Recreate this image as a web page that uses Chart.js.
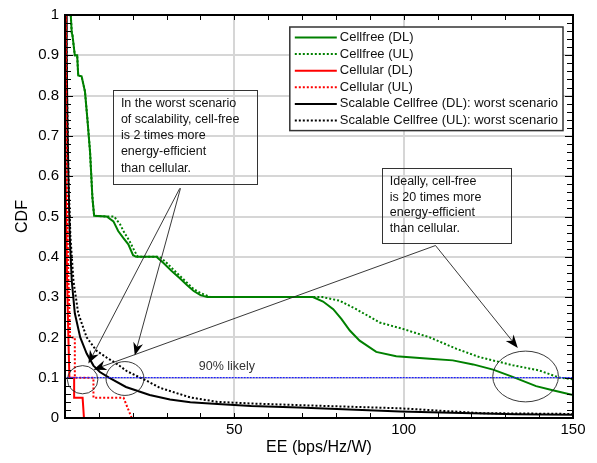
<!DOCTYPE html>
<html><head><meta charset="utf-8">
<script src="https://cdn.jsdelivr.net/npm/chart.js@4.4.0/dist/chart.umd.min.js"></script>
<style>html,body{margin:0;padding:0;background:#fff;}canvas{display:block;}</style>
</head><body>
<canvas id="c" width="597" height="463"></canvas>
<script>
// ---------- DATA ----------
const cellfreeDL_EE  = [1.7,2.0,2.2,2.9,3.6,3.9,4.9,5.9,6.6,7.4,8.1,8.6,12.3,14.3,15.7,17.2,18.7,20.1,21,27,29,31.5,33.9,36,38,40,42,73.2,76.2,79.2,81.6,84.1,87,91.9,97.8,107.7,114.5,120.5,126.4,132.2,139.1,144,150];
const cellfreeDL_CDF = [1,0.955,0.95,0.9,0.9,0.85,0.848,0.81,0.743,0.66,0.546,0.502,0.5,0.488,0.464,0.447,0.431,0.404,0.4,0.4,0.385,0.365,0.347,0.33,0.315,0.305,0.3,0.3,0.289,0.27,0.246,0.217,0.192,0.164,0.153,0.147,0.143,0.133,0.12,0.102,0.079,0.069,0.057];

const cellfreeUL_EE  = [1.7,2.0,2.2,2.9,3.6,3.9,4.9,5.9,6.6,7.4,8.1,8.6,12.3,14.5,16.3,17.5,19,20.5,21.5,28,30,33,35.5,38,40,43,76,81.1,86,92.9,99.8,107.7,115.5,122.4,132.2,140,146,150];
const cellfreeUL_CDF = [1,0.955,0.95,0.9,0.9,0.85,0.848,0.81,0.743,0.66,0.546,0.502,0.5,0.5,0.48,0.46,0.44,0.415,0.4,0.4,0.385,0.36,0.34,0.32,0.31,0.3,0.3,0.291,0.27,0.237,0.221,0.2,0.172,0.151,0.131,0.118,0.1,0.096];

const cellularDL_EE  = [0.1,0.2,0.6,1.0,1.3,2.7,2.7,5.2,5.6];
const cellularDL_CDF = [1,0.6,0.35,0.2,0.1,0.1,0.05,0.05,0];

const cellularUL_EE  = [0.2,0.5,1.0,1.5,2.9,2.9,8.4,8.4,17.3,19.7];
const cellularUL_CDF = [1,0.6,0.35,0.2,0.2,0.1,0.1,0.05,0.05,0];

const scalableDL_EE  = [0.3,0.5,0.7,1.0,1.4,2.0,2.9,4.5,6.4,8.4,10.3,13,18,25,31,37,45,55,69,84,99,114,133,150];
const scalableDL_CDF = [1,0.9,0.75,0.6,0.45,0.34,0.26,0.2,0.16,0.13,0.114,0.1,0.077,0.057,0.046,0.039,0.035,0.03,0.026,0.021,0.016,0.013,0.009,0.008];

const scalableUL_EE  = [0.3,0.6,1.0,1.6,2.5,3.9,6.4,9.3,12.3,15.2,18.3,21,24.2,28,31,37,45,55,69,84,99,113,123,150];
const scalableUL_CDF = [1,0.8,0.6,0.45,0.34,0.26,0.2,0.167,0.15,0.135,0.116,0.105,0.092,0.075,0.067,0.051,0.04,0.036,0.032,0.028,0.024,0.017,0.012,0.01];

const refLine_EE  = [0.5,150];
const refLine_CDF = [0.1,0.1];

const seriesLabels = ['Cellfree (DL)','Cellfree (UL)','Cellular (DL)','Cellular (UL)','Scalable Cellfree (DL): worst scenario','Scalable Cellfree (UL): worst scenario'];
const xTickLabels = [50,100,150];
const yTickLabels = [0,0.1,0.2,0.3,0.4,0.5,0.6,0.7,0.8,0.9,1];
const refLabel = '90% likely';
const note1 = ['In the worst scenario','of scalability, cell-free','is 2 times more','energy-efficient','than cellular.'];
const note2 = ['Ideally, cell-free','is 20 times more','energy-efficient','than cellular.'];

// ---------- helpers ----------
function pts(xs, ys){ return xs.map((x,i)=>({x:x, y:ys[i]})); }
const FONT = '"Liberation Sans", Arial, sans-serif';
const GREEN = '#008000', RED = '#ff0000', BLACK = '#000000';

const datasets = [
  {label:'ref', data:pts(refLine_EE,refLine_CDF), borderColor:'#1e1eff', borderWidth:1.2, borderDash:[2,1]},
  {label:seriesLabels[0], data:pts(cellfreeDL_EE,cellfreeDL_CDF), borderColor:GREEN, borderWidth:2},
  {label:seriesLabels[1], data:pts(cellfreeUL_EE,cellfreeUL_CDF), borderColor:GREEN, borderWidth:2, borderDash:[2,2]},
  {label:seriesLabels[2], data:pts(cellularDL_EE,cellularDL_CDF), borderColor:RED, borderWidth:2},
  {label:seriesLabels[3], data:pts(cellularUL_EE,cellularUL_CDF), borderColor:RED, borderWidth:2, borderDash:[2,2]},
  {label:seriesLabels[4], data:pts(scalableDL_EE,scalableDL_CDF), borderColor:BLACK, borderWidth:2},
  {label:seriesLabels[5], data:pts(scalableUL_EE,scalableUL_CDF), borderColor:BLACK, borderWidth:2, borderDash:[2,2]}
].map(d=>Object.assign({showLine:true, pointRadius:0, pointHoverRadius:0, fill:false, tension:0}, d));

// annotation geometry in data units (EE, CDF)
const notes = {
  box1:{x1:14.2, x2:56.6, y1:0.814, y2:0.58, tx:16.5, ty:0.78, lh:16.1},
  box2:{x1:93.5, x2:131.5, y1:0.621, y2:0.434, tx:95.9, ty:0.587, lh:15.7},
  arrows:[
    {from:[33.9,0.57], to:[6.9,0.135]},
    {from:[34.1,0.57], to:[20.6,0.155]},
    {from:[109.4,0.428], to:[8.4,0.12]},
    {from:[109.4,0.428], to:[133.7,0.174]}
  ],
  ellipses:[
    {cx:5.2, cy:0.095, rx:4.5, ry:0.035},
    {cx:17.7, cy:0.098, rx:5.6, ry:0.042},
    {cx:136.0, cy:0.103, rx:9.7, ry:0.063}
  ],
  ref:{x:39.5, y:0.128}
};

const decor = {
  id:'decor',
  afterDraw(chart){
    const ctx = chart.ctx, a = chart.chartArea;
    const xs = chart.scales.x, ys = chart.scales.y;
    const X = v=>xs.getPixelForValue(v), Y = v=>ys.getPixelForValue(v);
    ctx.save();
    // inward ticks
    ctx.strokeStyle = '#000'; ctx.lineWidth = 1;
    ctx.beginPath();
    for(let v=10; v<150; v+=10){
      const px = Math.round(X(v))+0.5;
      ctx.moveTo(px, a.bottom); ctx.lineTo(px, a.bottom-5);
      ctx.moveTo(px, a.top); ctx.lineTo(px, a.top+5);
    }
    for(let k=1; k<50; k++){
      const v = k*0.02;
      const py = Math.round(Y(v))+0.5;
      const len = (k%5===0) ? 8 : 6;
      ctx.moveTo(a.left, py); ctx.lineTo(a.left+len, py);
      ctx.moveTo(a.right, py); ctx.lineTo(a.right-len, py);
    }
    ctx.stroke();
    // frame
    ctx.lineWidth = 2; ctx.strokeStyle = '#000';
    ctx.strokeRect(a.left, a.top, a.right-a.left, a.bottom-a.top);

    // annotations
    ctx.strokeStyle = '#222'; ctx.fillStyle = '#000'; ctx.lineWidth = 1;
    ctx.font = '12.5px ' + FONT; ctx.textBaseline = 'middle'; ctx.textAlign = 'left';
    [['box1',note1],['box2',note2]].forEach(([k,lines])=>{
      const b = notes[k];
      ctx.strokeStyle = '#333';
      ctx.strokeRect(Math.round(X(b.x1))+0.5, Math.round(Y(b.y1))+0.5, Math.round(X(b.x2)-X(b.x1)), Math.round(Y(b.y2)-Y(b.y1)));
      lines.forEach((t,i)=>{ ctx.fillStyle='#111'; ctx.fillText(t, X(b.tx), Y(b.ty)+i*b.lh); });
    });
    ctx.fillStyle = '#333';
    ctx.fillText(refLabel, X(notes.ref.x), Y(notes.ref.y));
    notes.arrows.forEach(ar=>{
      const x0=X(ar.from[0]), y0=Y(ar.from[1]), x1=X(ar.to[0]), y1=Y(ar.to[1]);
      const ang = Math.atan2(y1-y0, x1-x0);
      ctx.strokeStyle = '#222'; ctx.lineWidth = 0.9;
      ctx.beginPath(); ctx.moveTo(x0,y0); ctx.lineTo(x1-9*Math.cos(ang), y1-9*Math.sin(ang)); ctx.stroke();
      ctx.save(); ctx.translate(x1,y1); ctx.rotate(ang);
      ctx.fillStyle = '#000';
      ctx.beginPath(); ctx.moveTo(0,0); ctx.lineTo(-13,-5); ctx.lineTo(-9,0); ctx.lineTo(-13,5); ctx.closePath(); ctx.fill();
      ctx.restore();
    });
    notes.ellipses.forEach(e=>{
      const cx=X(e.cx), cy=Y(e.cy), rx=Math.abs(X(e.cx+e.rx)-cx), ry=Math.abs(Y(e.cy+e.ry)-cy);
      ctx.strokeStyle = '#222'; ctx.lineWidth = 0.9;
      ctx.beginPath(); ctx.ellipse(cx,cy,rx,ry,0,0,Math.PI*2); ctx.stroke();
    });

    // legend (inside, top-right)
    ctx.font = '13px ' + FONT;
    const items = chart.data.datasets.filter(d=>d.label!=='ref');
    let tw = 0; items.forEach(d=>{ tw = Math.max(tw, ctx.measureText(d.label).width); });
    const lw = 5+42+3+tw+5, rowH = 16.6, lh = 4+rowH*6;
    const lx = a.right - 10 - lw, ly = a.top + 12;
    ctx.fillStyle = '#fff'; ctx.fillRect(lx, ly, lw, lh);
    ctx.strokeStyle = '#333'; ctx.lineWidth = 1.5; ctx.strokeRect(lx, ly, lw, lh);
    items.forEach((d,i)=>{
      const yy = ly + 10.5 + i*rowH;
      ctx.strokeStyle = d.borderColor; ctx.lineWidth = 2; ctx.setLineDash(d.borderDash || []);
      ctx.beginPath(); ctx.moveTo(lx+5, yy); ctx.lineTo(lx+47, yy); ctx.stroke();
      ctx.setLineDash([]);
      ctx.fillStyle = '#111'; ctx.textBaseline='middle'; ctx.fillText(d.label, lx+50, yy);
    });
    ctx.restore();
  }
};

new Chart(document.getElementById('c'), {
  type:'scatter',
  data:{datasets},
  options:{
    responsive:false, animation:false, devicePixelRatio:1,
    layout:{padding:{top:12, right:24, left:0, bottom:0}},
    plugins:{legend:{display:false}, tooltip:{enabled:false}},
    scales:{
      x:{type:'linear', min:0, max:150,
        afterFit(s){ s.height = 45; },
        afterBuildTicks(s){ s.ticks = [0].concat(xTickLabels).map(v=>({value:v})); },
        ticks:{color:'#000', font:{family:FONT, size:15}, padding:3, maxRotation:0,
          callback:(v)=> xTickLabels.includes(v) ? String(v) : ''},
        grid:{color:'#d6d6d6', lineWidth:2, drawTicks:false},
        border:{display:false},
        title:{display:true, text:'EE (bps/Hz/W)', color:'#000', font:{family:FONT, size:16}, padding:{top:0,bottom:6}}
      },
      y:{type:'linear', min:0, max:1,
        afterFit(s){ s.width = 65; },
        afterBuildTicks(s){ s.ticks = yTickLabels.map(v=>({value:v})); },
        ticks:{color:'#000', font:{family:FONT, size:15}, padding:6,
          callback:(v)=> String(Math.round(v*10)/10)},
        grid:{color:'#d6d6d6', lineWidth:2, drawTicks:false},
        border:{display:false},
        title:{display:true, text:'CDF', color:'#000', font:{family:FONT, size:16}, padding:{top:13,bottom:0}}
      }
    }
  },
  plugins:[decor]
});
</script>
</body></html>
